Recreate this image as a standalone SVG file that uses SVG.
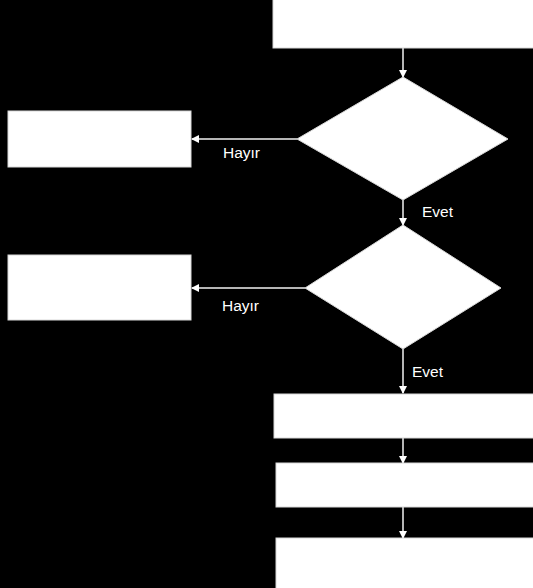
<svg xmlns="http://www.w3.org/2000/svg" width="533" height="588" viewBox="0 0 533 588">
<style>
.n{fill:#ffffff;stroke:#d8d8d8;stroke-width:1}
.c{stroke:#f2f2f2;stroke-width:1.5;fill:none;marker-end:url(#ah)}
.t{font-family:"Liberation Sans",Arial,sans-serif;font-size:15.5px;fill:#ffffff}
</style>
<defs>
<marker id="ah" markerWidth="8" markerHeight="8" refX="7" refY="4" orient="auto" markerUnits="userSpaceOnUse">
<path d="M0,0 L8,4 L0,8 Z" fill="#ffffff"/>
</marker>
</defs>
<rect width="533" height="588" fill="#000000"/>
<g id="connectors">
<line class="c" x1="403" y1="48" x2="403" y2="77"/>
<line class="c" x1="297" y1="139" x2="192" y2="139"/>
<line class="c" x1="403" y1="200" x2="403" y2="225"/>
<line class="c" x1="305" y1="288" x2="192" y2="288"/>
<line class="c" x1="403" y1="349" x2="403" y2="393"/>
<line class="c" x1="403" y1="438" x2="403" y2="463"/>
<line class="c" x1="403" y1="507" x2="403" y2="538"/>
</g>
<g id="start"><rect class="n" x="273" y="-2" width="265" height="50"/></g>
<g id="decision1"><polygon class="n" points="403,77 508,139 403,200 297,139"/></g>
<g id="no1"><rect class="n" x="8" y="111" width="183" height="56"/></g>
<g id="decision2"><polygon class="n" points="403,225 501,288 403,349 305,288"/></g>
<g id="no2"><rect class="n" x="8" y="255" width="183" height="65"/></g>
<g id="step1"><rect class="n" x="274" y="394" width="264" height="44"/></g>
<g id="step2"><rect class="n" x="276" y="463" width="262" height="44"/></g>
<g id="step3"><rect class="n" x="276" y="538" width="262" height="55"/></g>
<g id="labels">
<text class="t" x="223" y="158">Hayır</text>
<text class="t" x="422" y="217">Evet</text>
<text class="t" x="222" y="311">Hayır</text>
<text class="t" x="412" y="377">Evet</text>
</g>
</svg>
